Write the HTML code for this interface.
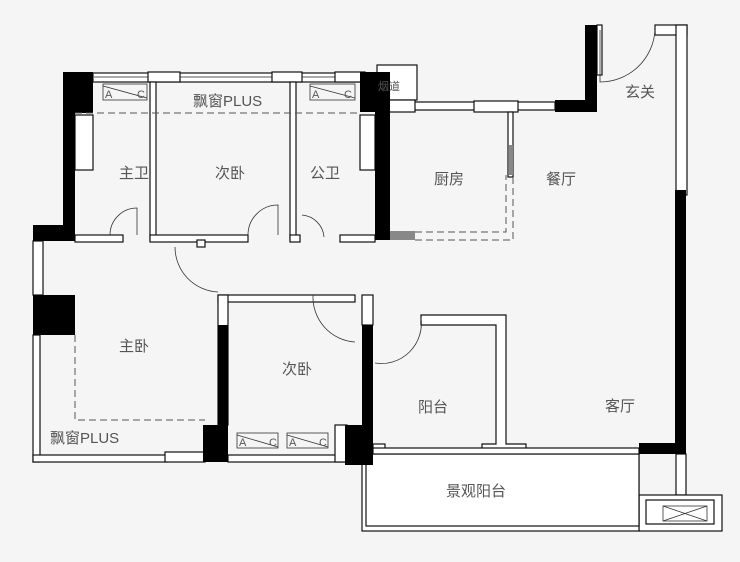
<!DOCTYPE html>
<html><head><meta charset="utf-8"><style>
html,body{margin:0;padding:0;background:#f5f5f5;}
svg{display:block}
text{font-family:"Liberation Sans","Noto Sans CJK SC",sans-serif;fill:#555;font-size:15px;}
</style></head><body>
<svg width="740" height="562" viewBox="0 0 740 562" xmlns="http://www.w3.org/2000/svg">
<rect width="740" height="562" fill="#f5f5f5"/>
<g fill="#fff" stroke="#111" stroke-width="1.2">
<rect x="93" y="73" width="270" height="9"/>
<line x1="93" y1="77" x2="363" y2="77" stroke="#777"/>
<rect x="148" y="72" width="32" height="10"/>
<rect x="272" y="72" width="30" height="10"/>
<rect x="335" y="72" width="30" height="10"/>
<rect x="150" y="82" width="6" height="158"/>
<rect x="290" y="82" width="6" height="158"/>
<rect x="75" y="235" width="48" height="7"/>
<rect x="150" y="235" width="98" height="7"/>
<rect x="197" y="240" width="8" height="7"/>
<rect x="290" y="235" width="10" height="7"/>
<rect x="340" y="235" width="35" height="7"/>
<rect x="75" y="115" width="18" height="55"/>
<rect x="360" y="115" width="15" height="55"/>
<rect x="218" y="295" width="137" height="7"/>
<rect x="218" y="295" width="10" height="130"/>
<rect x="362" y="295" width="11" height="30"/>
<path d="M421 315 H506 V444 H526 V454 H482 V444 H496 V325 H421 Z"/>
<rect x="373" y="444" width="12" height="10"/>
<rect x="390" y="102" width="165" height="8"/>
<rect x="474" y="101" width="44" height="11"/>
<rect x="508" y="112" width="5" height="65"/>
<rect x="377" y="65" width="40" height="35"/>
<rect x="385" y="100" width="30" height="12"/>
<rect x="655" y="25" width="32" height="10"/>
<rect x="676" y="25" width="11" height="170"/>
<rect x="597" y="25" width="5" height="50"/>
<rect x="676" y="454" width="10" height="41"/>
<rect x="639" y="495" width="83" height="36"/>
<rect x="646" y="500" width="68" height="24"/>
<rect x="33" y="241" width="10" height="54"/>
<rect x="33" y="335" width="7" height="127"/>
<rect x="33" y="455" width="135" height="7"/>
<rect x="165" y="452" width="40" height="10"/>
<rect x="228" y="455" width="120" height="7"/>
<rect x="335" y="425" width="12" height="37"/>
<rect x="362" y="454" width="277" height="77"/>
<rect x="366" y="454" width="273" height="72"/>
<rect x="373" y="448" width="266" height="6"/>
</g>
<g fill="#000">
<rect x="63" y="72" width="30" height="41"/>
<rect x="63" y="113" width="12" height="115"/>
<rect x="33" y="225" width="42" height="16"/>
<rect x="33" y="295" width="42" height="40"/>
<rect x="203" y="425" width="25" height="37"/>
<rect x="218" y="325" width="10" height="100"/>
<rect x="345" y="425" width="28" height="40"/>
<rect x="362" y="325" width="11" height="140"/>
<rect x="360" y="72" width="30" height="40"/>
<rect x="375" y="112" width="15" height="128"/>
<rect x="585" y="25" width="12" height="87"/>
<rect x="555" y="100" width="42" height="12"/>
<rect x="675" y="190" width="11" height="264"/>
<rect x="639" y="443" width="47" height="11"/>
</g>
<g fill="#888"><rect x="509" y="145" width="4" height="30"/><rect x="390" y="231" width="25" height="9"/></g>
<g fill="none" stroke="#555" stroke-width="1" stroke-dasharray="7,4">
<line x1="75" y1="113" x2="360" y2="113"/>
<path d="M75 335 V420 H205"/>
<path d="M415 232 H506 V175"/>
<path d="M415 240 H513 V175"/>
</g>
<g fill="none" stroke="#333" stroke-width="0.8">
<path d="M110 235 A27 27 0 0 1 137 208 V235"/>
<path d="M248 235 A30 30 0 0 1 278 205 V235"/>
<path d="M302 215 A24 24 0 0 1 324 237"/>
<path d="M175 247 A45 45 0 0 0 218 292"/>
<path d="M313 295 A45 45 0 0 0 355 342"/>
<path d="M421 318 A40 40 0 0 1 375 363"/>
<path d="M600 30 V82 A55 55 0 0 0 655 30"/>
<rect x="103" y="84" width="44" height="16"/><line x1="103" y1="86" x2="147" y2="98"/>
<rect x="310" y="84" width="45" height="16"/><line x1="310" y1="86" x2="355" y2="98"/>
<rect x="237" y="433" width="41" height="15"/><line x1="237" y1="435" x2="278" y2="447"/>
<rect x="287" y="433" width="41" height="15"/><line x1="287" y1="435" x2="328" y2="447"/>
<rect x="663" y="506" width="44" height="15"/><line x1="663" y1="506" x2="707" y2="521"/><line x1="663" y1="521" x2="707" y2="506"/>
</g>
<g><text x="105" y="98" style="font-size:11px">A</text><text x="137" y="98" style="font-size:11px">C</text>
<text x="312" y="98" style="font-size:11px">A</text><text x="344" y="98" style="font-size:11px">C</text>
<text x="239" y="446" style="font-size:11px">A</text><text x="269" y="446" style="font-size:11px">C</text>
<text x="289" y="446" style="font-size:11px">A</text><text x="319" y="446" style="font-size:11px">C</text>
<text x="378" y="90" style="font-size:11px">烟道</text></g>
<text x="193" y="106">飘窗PLUS</text>
<text x="119" y="178">主卫</text>
<text x="215" y="178">次卧</text>
<text x="310" y="178">公卫</text>
<text x="434" y="184">厨房</text>
<text x="546" y="184">餐厅</text>
<text x="625" y="97">玄关</text>
<text x="119" y="351">主卧</text>
<text x="282" y="374">次卧</text>
<text x="418" y="412">阳台</text>
<text x="605" y="411">客厅</text>
<text x="50" y="443">飘窗PLUS</text>
<text x="446" y="496">景观阳台</text>
</svg>
</body></html>
